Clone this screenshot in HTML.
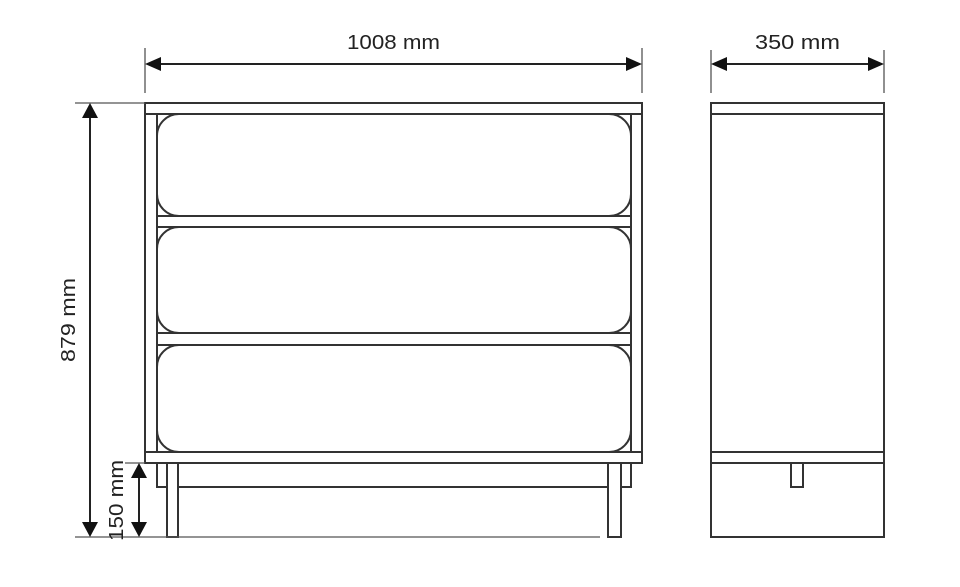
<!DOCTYPE html>
<html><head><meta charset="utf-8"><style>
html,body{margin:0;padding:0;background:#fff;}
svg{display:block;}
text{font-family:"Liberation Sans","DejaVu Sans",sans-serif;fill:#222;font-size:20px;}
</style></head><body>
<svg width="960" height="587" viewBox="0 0 960 587" xmlns="http://www.w3.org/2000/svg">
<g fill="none" stroke="#333" stroke-width="2">
  <!-- front: top slab -->
  <rect x="145" y="103" width="497" height="11"/>
  <!-- sides -->
  <line x1="145" y1="114" x2="145" y2="463"/>
  <line x1="157" y1="114" x2="157" y2="452"/>
  <line x1="631" y1="114" x2="631" y2="452"/>
  <line x1="642" y1="114" x2="642" y2="463"/>
  <!-- shelves -->
  <rect x="157" y="216" width="474" height="11"/>
  <rect x="157" y="333" width="474" height="12"/>
  <!-- drawers -->
  <rect x="157" y="114" width="474" height="102" rx="22" ry="22"/>
  <rect x="157" y="227" width="474" height="106" rx="22" ry="22"/>
  <rect x="157" y="345" width="474" height="107" rx="22" ry="22"/>
  <!-- bottom slab -->
  <rect x="145" y="452" width="497" height="11"/>
  <!-- aprons & legs -->
  <rect x="157" y="463" width="10" height="24"/>
  <rect x="621" y="463" width="10" height="24"/>
  <rect x="167" y="463" width="11" height="74"/>
  <rect x="608" y="463" width="13" height="74"/>
  <line x1="178" y1="487" x2="608" y2="487"/>
  <!-- side view -->
  <rect x="711" y="103" width="173" height="11"/>
  <rect x="711" y="114" width="173" height="423"/>
  <rect x="711" y="452" width="173" height="11"/>
  <rect x="791" y="463" width="12" height="24"/>
</g>
<!-- extension lines -->
<g stroke="#555" stroke-width="1.3" fill="none">
  <line x1="75" y1="103" x2="145" y2="103"/>
  <line x1="75" y1="537" x2="600" y2="537"/>
  <line x1="125" y1="463" x2="145" y2="463"/>
  <line x1="145" y1="48" x2="145" y2="93"/>
  <line x1="642" y1="48" x2="642" y2="93"/>
  <line x1="711" y1="50" x2="711" y2="93"/>
  <line x1="884" y1="50" x2="884" y2="93"/>
</g>
<!-- dimension lines -->
<g stroke="#222" stroke-width="2">
  <line x1="158" y1="64" x2="629" y2="64"/>
  <line x1="724" y1="64" x2="871" y2="64"/>
  <line x1="90" y1="116" x2="90" y2="524"/>
  <line x1="139" y1="476" x2="139" y2="524"/>
</g>
<g fill="#111">
  <polygon points="145,64 161,57 161,71"/>
  <polygon points="642,64 626,57 626,71"/>
  <polygon points="711,64 727,57 727,71"/>
  <polygon points="884,64 868,57 868,71"/>
  <polygon points="90,103 82,118 98,118"/>
  <polygon points="90,537 82,522 98,522"/>
  <polygon points="139,463 131,478 147,478"/>
  <polygon points="139,537 131,522 147,522"/>
</g>
<text x="347" y="49" textLength="93" lengthAdjust="spacingAndGlyphs">1008 mm</text>
<text x="755" y="49" textLength="85" lengthAdjust="spacingAndGlyphs">350 mm</text>
<text transform="translate(75,362) rotate(-90)" textLength="84" lengthAdjust="spacingAndGlyphs">879 mm</text>
<text transform="translate(123,541) rotate(-90)" textLength="81" lengthAdjust="spacingAndGlyphs">150 mm</text>
</svg>
</body></html>
